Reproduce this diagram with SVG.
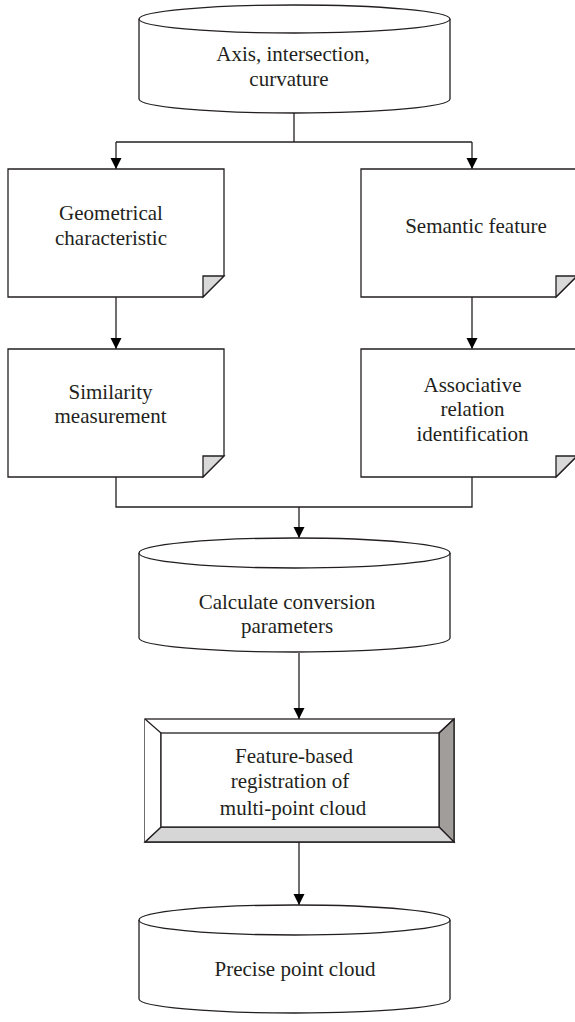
<svg xmlns="http://www.w3.org/2000/svg" width="575" height="1022" viewBox="0 0 575 1022">
<style>
.s{fill:#fff;stroke:#231f20;stroke-width:1.3;stroke-linejoin:miter}
.fold{fill:#d9d9d9;stroke:#231f20;stroke-width:1.3}
.c{fill:none;stroke:#231f20;stroke-width:1.3}
.t{font-family:"Liberation Serif","Times New Roman",serif;font-size:21px;fill:#231f20;text-anchor:middle}
</style>
<defs>
<marker id="ah" markerUnits="userSpaceOnUse" markerWidth="14" markerHeight="14" viewBox="0 0 14 14" refX="12" refY="7" orient="auto">
<path d="M1,1.5 L12,7 L1,12.5 Z" fill="#000"/>
</marker>
</defs>
<rect width="575" height="1022" fill="#fff"/>
<g id="connectors">
<path class="c" d="M294,113 V142"/>
<path class="c" d="M116,142 H472"/>
<path class="c" d="M116,142 V169" marker-end="url(#ah)"/>
<path class="c" d="M472,142 V169" marker-end="url(#ah)"/>
<path class="c" d="M116,297 V349" marker-end="url(#ah)"/>
<path class="c" d="M472,297 V349" marker-end="url(#ah)"/>
<path class="c" d="M116,477 V507 H472 V477"/>
<path class="c" d="M299,507 V538" marker-end="url(#ah)"/>
<path class="c" d="M299,653 V719" marker-end="url(#ah)"/>
<path class="c" d="M299,842 V905" marker-end="url(#ah)"/>
</g>
<g id="n1">
<path class="s" d="M139,19 V99 A155.5,14 0 0,0 450,99 V19"/>
<ellipse class="s" cx="294.5" cy="19" rx="155.5" ry="14"/>
<text class="t" x="293" y="61">Axis, intersection,</text>
<text class="t" x="289" y="86">curvature</text>
</g>
<g id="n2">
<path class="s" d="M8,169 H224 V276 L203,297 H8 Z"/>
<path class="fold" d="M203,297 V276 H224 Z"/>
<text class="t" x="111" y="220">Geometrical</text>
<text class="t" x="111" y="245">characteristic</text>
</g>
<g id="n3">
<path class="s" d="M361,169 H577 V276 L556,297 H361 Z"/>
<path class="fold" d="M556,297 V276 H577 Z"/>
<text class="t" x="476" y="233">Semantic feature</text>
</g>
<g id="n4">
<path class="s" d="M8,349 H224 V456 L203,477 H8 Z"/>
<path class="fold" d="M203,477 V456 H224 Z"/>
<text class="t" x="110.5" y="399">Similarity</text>
<text class="t" x="110.5" y="423">measurement</text>
</g>
<g id="n5">
<path class="s" d="M361,349 H577 V456 L556,477 H361 Z"/>
<path class="fold" d="M556,477 V456 H577 Z"/>
<text class="t" x="472.5" y="392">Associative</text>
<text class="t" x="472.5" y="416">relation</text>
<text class="t" x="472.5" y="441">identification</text>
</g>
<g id="n6">
<path class="s" d="M139,553 V638 A155.5,14 0 0,0 450,638 V553"/>
<ellipse class="s" cx="294.5" cy="553" rx="155.5" ry="15"/>
<text class="t" x="287" y="609">Calculate conversion</text>
<text class="t" x="287" y="633">parameters</text>
</g>
<g id="n7">
<rect class="s" x="145" y="719" width="309" height="123"/>
<path class="s" d="M454,719 V842 L439,827 V733 Z" style="fill:#a09d9a"/>
<path class="s" d="M145,842 H454 L439,827 H161 Z" style="fill:#d6d6d6"/>
<path class="s" d="M145,719 L161,733 V827 L145,842"/>
<path class="c" d="M454,719 L439,733"/>
<rect class="s" x="161" y="733" width="278" height="94"/>
<text class="t" x="294" y="763">Feature-based</text>
<text class="t" x="290" y="788">registration of</text>
<text class="t" x="293" y="815">multi-point cloud</text>
</g>
<g id="n8">
<path class="s" d="M139,920 V999 A155.5,14 0 0,0 450,999 V920"/>
<ellipse class="s" cx="294.5" cy="920" rx="155.5" ry="15"/>
<text class="t" x="295" y="976">Precise point cloud</text>
</g>
</svg>
